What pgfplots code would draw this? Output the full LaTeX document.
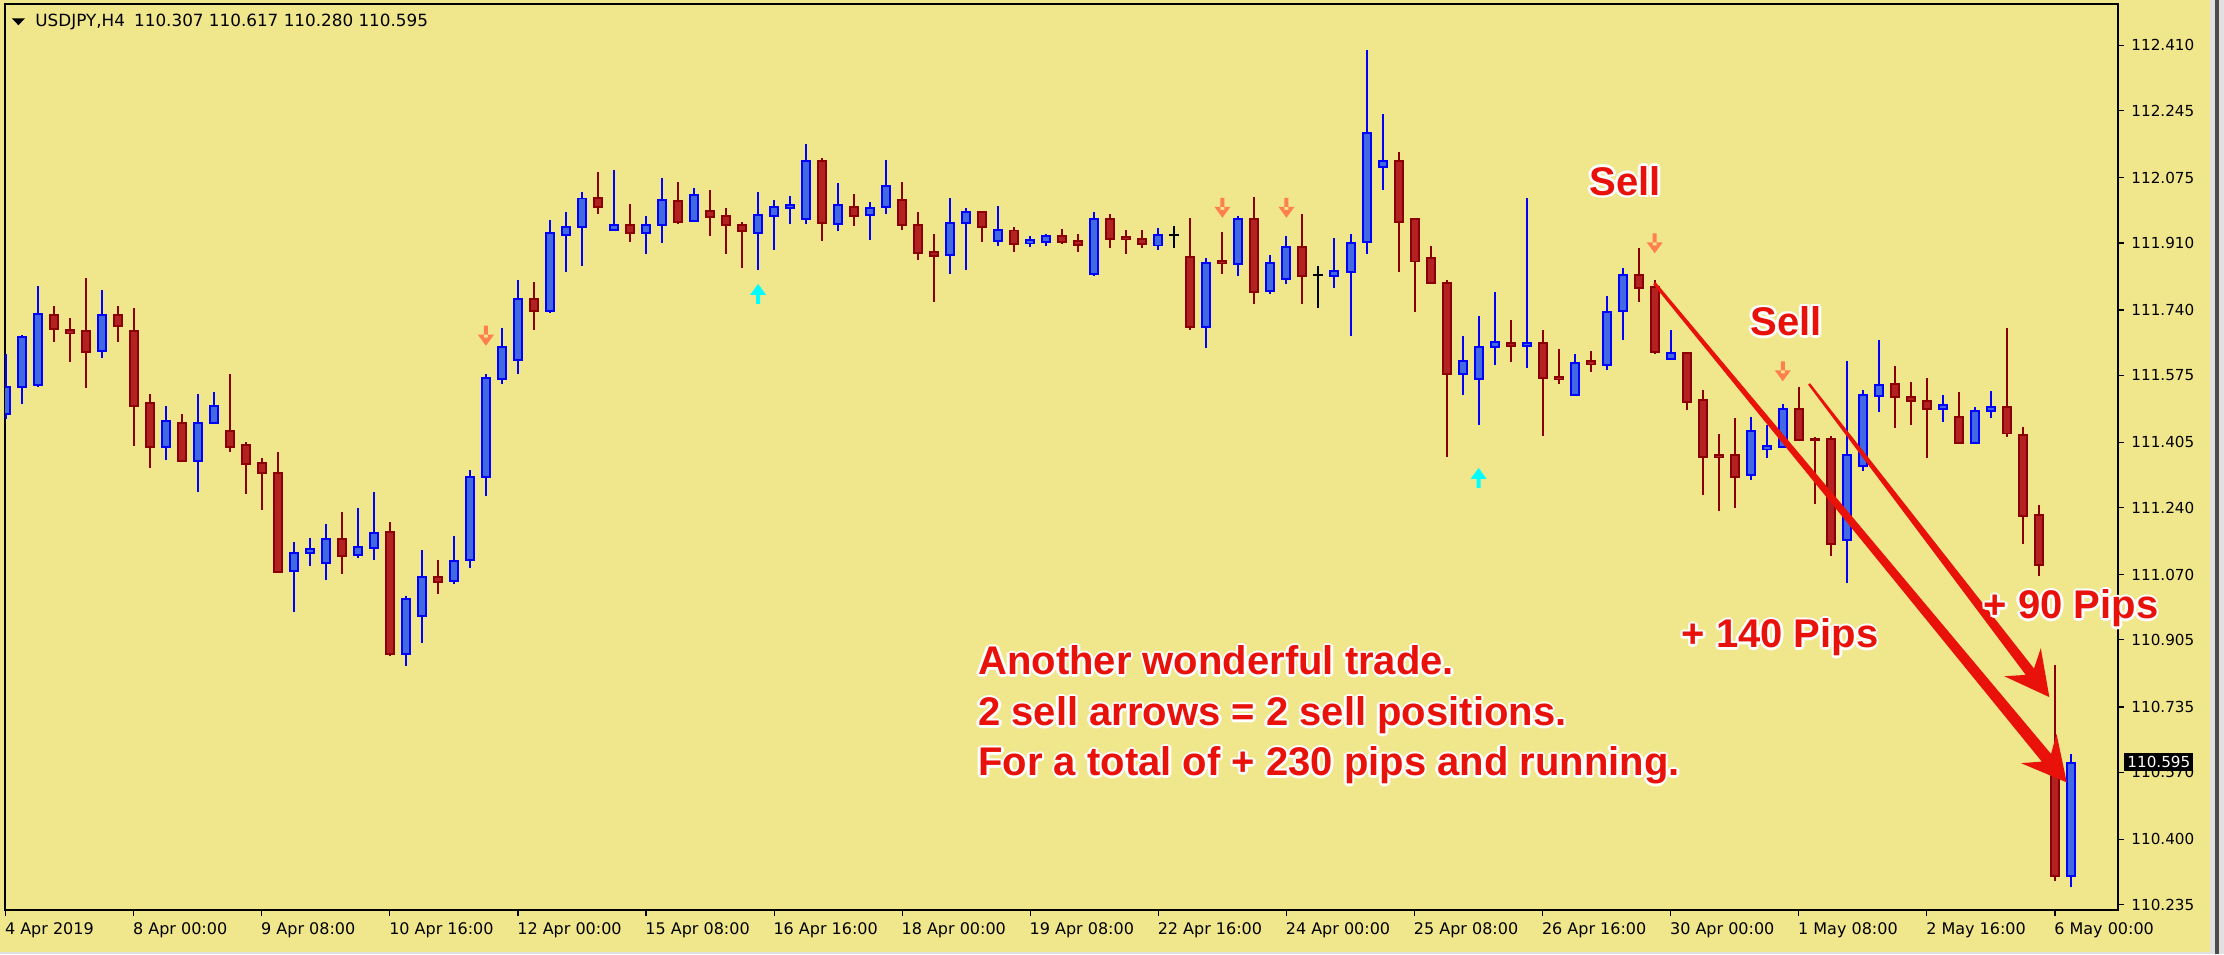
\documentclass[border=0pt]{standalone}
\usepackage{fontspec}
\setmainfont{DejaVu Sans}
\newfontfamily\annfont{Liberation Sans}
\usepackage{pgfplots}
\pgfplotsset{compat=1.18}
\usepackage{pgfplotstable}
\usetikzlibrary{calc}

\definecolor{chartbg}{RGB}{240,230,140}
\definecolor{bullfill}{RGB}{65,105,225}
\definecolor{bullline}{RGB}{0,0,255}
\definecolor{bearfill}{RGB}{178,34,34}
\definecolor{bearline}{RGB}{139,0,0}
\definecolor{sellarrow}{RGB}{255,127,80}
\definecolor{buyarrow}{RGB}{0,255,255}
\definecolor{annred}{RGB}{232,18,10}

% USDJPY H4, bar index / open / high / low / close
\pgfplotstableread{
x o h l c
0 111.479 111.629 111.464 111.546
1 111.546 111.678 111.504 111.673
2 111.550 111.801 111.545 111.729
3 111.729 111.751 111.660 111.692
4 111.689 111.720 111.610 111.682
5 111.688 111.822 111.545 111.636
6 111.636 111.791 111.620 111.729
7 111.729 111.751 111.660 111.702
8 111.688 111.746 111.397 111.499
9 111.506 111.528 111.341 111.393
10 111.393 111.497 111.362 111.460
11 111.455 111.477 111.357 111.357
12 111.357 111.528 111.281 111.455
13 111.454 111.533 111.454 111.496
14 111.435 111.578 111.382 111.393
15 111.400 111.406 111.275 111.352
16 111.354 111.366 111.235 111.327
17 111.329 111.381 111.079 111.079
18 111.079 111.153 110.977 111.126
19 111.124 111.163 111.093 111.136
20 111.099 111.199 111.058 111.161
21 111.161 111.229 111.073 111.119
22 111.119 111.239 111.114 111.141
23 111.139 111.280 111.108 111.177
24 111.178 111.204 110.866 110.870
25 110.870 111.016 110.840 111.010
26 110.968 111.132 110.896 111.065
27 111.065 111.107 111.023 111.054
28 111.054 111.168 111.048 111.105
29 111.109 111.336 111.088 111.318
30 111.318 111.578 111.270 111.568
31 111.565 111.695 111.554 111.648
32 111.616 111.816 111.580 111.769
33 111.769 111.812 111.691 111.738
34 111.738 111.969 111.732 111.937
35 111.929 111.989 111.838 111.951
36 111.950 112.039 111.853 112.023
37 112.023 112.090 111.984 112.001
38 111.945 112.095 111.945 111.956
39 111.956 112.009 111.914 111.935
40 111.935 111.978 111.883 111.956
41 111.955 112.075 111.909 112.018
42 112.018 112.065 111.959 111.965
43 111.965 112.050 111.965 112.032
44 111.992 112.045 111.929 111.976
45 111.978 111.999 111.883 111.955
46 111.957 111.963 111.848 111.940
47 111.935 112.039 111.843 111.982
48 111.980 112.019 111.893 112.003
49 112.000 112.029 111.959 112.008
50 111.970 112.161 111.959 112.119
51 112.119 112.125 111.914 111.960
52 111.960 112.060 111.939 112.008
53 112.003 112.034 111.954 111.980
54 111.980 112.014 111.919 111.998
55 112.000 112.120 111.984 112.054
56 112.018 112.065 111.944 111.955
57 111.957 111.989 111.868 111.884
58 111.887 111.933 111.762 111.879
59 111.879 112.024 111.833 111.962
60 111.960 111.999 111.843 111.988
61 111.988 111.988 111.914 111.950
62 111.914 112.004 111.903 111.942
63 111.942 111.952 111.888 111.909
64 111.909 111.927 111.898 111.917
65 111.914 111.932 111.903 111.927
66 111.927 111.947 111.908 111.914
67 111.916 111.933 111.887 111.904
68 111.833 111.989 111.827 111.972
69 111.972 111.984 111.898 111.920
70 111.926 111.943 111.882 111.920
71 111.921 111.943 111.898 111.909
72 111.904 111.948 111.892 111.931
73 111.931 111.953 111.898 111.931
74 111.876 111.974 111.690 111.697
75 111.697 111.872 111.644 111.860
76 111.866 111.938 111.832 111.859
77 111.859 111.979 111.827 111.972
78 111.972 112.029 111.756 111.788
79 111.788 111.882 111.781 111.860
80 111.818 111.928 111.806 111.901
81 111.901 111.984 111.756 111.828
82 111.830 111.852 111.746 111.830
83 111.828 111.923 111.796 111.840
84 111.838 111.933 111.675 111.911
85 111.914 112.399 111.882 112.190
86 112.102 112.237 112.044 112.119
87 112.119 112.141 111.837 111.965
88 111.972 111.972 111.736 111.864
89 111.871 111.903 111.808 111.808
90 111.810 111.817 111.368 111.580
91 111.580 111.675 111.525 111.612
92 111.565 111.725 111.449 111.648
93 111.646 111.786 111.600 111.658
94 111.658 111.715 111.609 111.651
95 111.651 112.024 111.595 111.658
96 111.658 111.690 111.422 111.570
97 111.572 111.644 111.555 111.565
98 111.525 111.629 111.525 111.607
99 111.612 111.639 111.584 111.605
100 111.600 111.776 111.590 111.734
101 111.737 111.847 111.666 111.830
102 111.830 111.898 111.762 111.798
103 111.800 111.817 111.631 111.636
104 111.616 111.690 111.616 111.633
105 111.633 111.633 111.489 111.509
106 111.511 111.538 111.271 111.368
107 111.374 111.427 111.231 111.368
108 111.374 111.467 111.241 111.317
109 111.322 111.472 111.312 111.435
110 111.390 111.450 111.366 111.396
111 111.394 111.502 111.390 111.490
112 111.490 111.547 111.413 111.413
113 111.415 111.421 111.250 111.411
114 111.415 111.421 111.118 111.149
115 111.159 111.613 111.049 111.374
116 111.347 111.537 111.334 111.525
117 111.525 111.665 111.483 111.552
118 111.552 111.599 111.444 111.520
119 111.521 111.558 111.450 111.511
120 111.511 111.568 111.366 111.490
121 111.490 111.527 111.458 111.500
122 111.470 111.533 111.403 111.403
123 111.403 111.496 111.403 111.486
124 111.485 111.537 111.469 111.495
125 111.495 111.696 111.419 111.428
126 111.426 111.446 111.149 111.221
127 111.222 111.248 111.068 111.095
128 110.580 110.843 110.295 110.307
129 110.307 110.617 110.280 110.595
}\candles

% MT4 style signal arrows, drawn around the data point
\pgfdeclareplotmark{sellarr}{%
  \pgfpathrectangle{\pgfpoint{-1pt}{-1pt}}{\pgfpoint{2pt}{6pt}}%
  \pgfpathmoveto{\pgfpoint{-4pt}{0.5pt}}\pgfpathlineto{\pgfpoint{4pt}{0.5pt}}%
  \pgfpathlineto{\pgfpoint{0pt}{-5pt}}\pgfpathclose
  \pgfusepathqfill}
\pgfdeclareplotmark{buyarr}{%
  \pgfpathrectangle{\pgfpoint{-1pt}{-5pt}}{\pgfpoint{2pt}{6pt}}%
  \pgfpathmoveto{\pgfpoint{-4pt}{-0.5pt}}\pgfpathlineto{\pgfpoint{4pt}{-0.5pt}}%
  \pgfpathlineto{\pgfpoint{0pt}{5pt}}\pgfpathclose
  \pgfusepathqfill}
% empty mark: candles are drawn by their error bars only
\pgfdeclareplotmark{nothing}{}

\pgfplotsset{
  candle/.style={only marks, mark=nothing,
    error bars/y dir=both, error bars/y explicit, error bars/error mark=none,
    error bars/error bar style={#1}},
  isbull/.style={restrict expr to domain={\thisrow{c}-\thisrow{o}}{0.0005:100}},
  isbear/.style={restrict expr to domain={\thisrow{o}-\thisrow{c}}{0.0005:100}},
  isdoji/.style={restrict expr to domain={abs(\thisrow{c}-\thisrow{o})}{-1:0.0004}},
}

% red bold text with a white halo; #1 is x,y without parentheses
\newcommand\glow[3]{%
  \foreach \dx/\dy in {1.3/0,-1.3/0,0/1.3,0/-1.3,0.9/0.9,-0.9/0.9,0.9/-0.9,-0.9/-0.9}{%
    \node[anchor=#2, text=white, inner sep=0pt, font=\annfont\bfseries\fontsize{20}{25}\selectfont]
      at ([shift={(\dx pt,\dy pt)}]#1) {#3};}%
  \node[anchor=#2, text=annred, inner sep=0pt, font=\annfont\bfseries\fontsize{20}{25}\selectfont] at (#1) {#3};}

\begin{document}
\begin{tikzpicture}
\useasboundingbox (0,0) rectangle (1112pt,477pt);
\fill[chartbg] (0,0) rectangle (1112pt,477pt);
\fill[black!12] (1105pt,0) rectangle (1112pt,477pt);
\fill[black!70] (1107.5pt,0) rectangle (1109.5pt,477pt);
\fill[black!12] (0,0) rectangle (1105pt,1pt);

\begin{axis}[
  at={(2.5pt,22pt)}, anchor=south west,
  scale only axis, width=1056.5pt, height=453pt,
  xmin=-0.04, xmax=131.94, ymin=110.221, ymax=112.515,
  axis background/.style={fill=chartbg},
  axis line style={line width=1pt, black},
  tick align=outside, major tick length=3pt,
  tick style={black, line width=0.6pt},
  xtick pos=left, ytick pos=right, yticklabel pos=right,
  xtick={0,8,...,128},
  xticklabels={4 Apr 2019, 8 Apr 00:00, 9 Apr 08:00, 10 Apr 16:00, 12 Apr 00:00,
    15 Apr 08:00, 16 Apr 16:00, 18 Apr 00:00, 19 Apr 08:00, 22 Apr 16:00,
    24 Apr 00:00, 25 Apr 08:00, 26 Apr 16:00, 30 Apr 00:00, 1 May 08:00,
    2 May 16:00, 6 May 00:00},
  ytick={110.235,110.400,110.570,110.735,110.905,111.070,111.240,111.405,
    111.575,111.740,111.910,112.075,112.245,112.410},
  yticklabels={110.235,110.400,110.570,110.735,110.905,111.070,111.240,111.405,
    111.575,111.740,111.910,112.075,112.245,112.410},
  xticklabel style={anchor=north west, inner sep=0pt, xshift=-0.5pt, yshift=-3pt,
    font=\fontsize{8}{9}\selectfont},
  yticklabel style={anchor=west, inner sep=0pt, xshift=3.5pt,
    font=\fontsize{7.6}{9}\selectfont},
]
% wicks
\addplot[candle={line width=1pt, bullline}, isbull]
  table[x=x, y expr={(\thisrow{h}+\thisrow{l})/2}, y error expr={(\thisrow{h}-\thisrow{l})/2}] {\candles};
\addplot[candle={line width=1pt, bearline}, isbear]
  table[x=x, y expr={(\thisrow{h}+\thisrow{l})/2}, y error expr={(\thisrow{h}-\thisrow{l})/2}] {\candles};
\addplot[candle={line width=1pt, black}, isdoji]
  table[x=x, y expr={(\thisrow{h}+\thisrow{l})/2}, y error expr={(\thisrow{h}-\thisrow{l})/2}] {\candles};
% bodies: outline layer, then fill layer
\addplot[candle={line width=5pt, bullline}, isbull]
  table[x=x, y expr={(\thisrow{o}+\thisrow{c})/2}, y error expr={abs(\thisrow{c}-\thisrow{o})/2+0.0025}] {\candles};
\addplot[candle={line width=5pt, bearline}, isbear]
  table[x=x, y expr={(\thisrow{o}+\thisrow{c})/2}, y error expr={abs(\thisrow{c}-\thisrow{o})/2+0.0025}] {\candles};
\addplot[candle={line width=5pt, black}, isdoji]
  table[x=x, y expr={(\thisrow{o}+\thisrow{c})/2}, y error expr={0.0025}] {\candles};
\addplot[candle={line width=3pt, bullfill}, isbull]
  table[x=x, y expr={(\thisrow{o}+\thisrow{c})/2}, y error expr={max(abs(\thisrow{c}-\thisrow{o})/2-0.0025,0)}] {\candles};
\addplot[candle={line width=3pt, bearfill}, isbear]
  table[x=x, y expr={(\thisrow{o}+\thisrow{c})/2}, y error expr={max(abs(\thisrow{c}-\thisrow{o})/2-0.0025,0)}] {\candles};

% signal arrows
\addplot[only marks, mark=sellarr, sellarrow]
  coordinates {(30,111.675) (76,111.999) (80,111.999) (103,111.909) (111,111.585)};
\addplot[only marks, mark=buyarr, buyarrow]
  coordinates {(47,111.781) (92,111.315)};

\coordinate (A1) at (axis cs:102.98,111.808);
\coordinate (T1) at (axis cs:128.74,110.544);
\coordinate (A2) at (axis cs:112.64,111.553);
\coordinate (T2) at (axis cs:127.65,110.760);
\coordinate (cp) at (axis cs:131.94,110.595);
\end{axis}

% trade arrows
\coordinate (B1) at ($(T1)!22pt!(A1)$);
\coordinate (J1) at ($(T1)!16pt!(A1)$);
\fill[annred] ($(A1)!0.8pt!90:(T1)$) -- ($(J1)!3pt!-90:(A1)$) -- ($(B1)!11.5pt!-90:(A1)$)
  -- (T1) -- ($(B1)!11.5pt!90:(A1)$) -- ($(J1)!3pt!90:(A1)$) -- ($(A1)!0.8pt!-90:(T1)$) -- cycle;
\coordinate (B2) at ($(T2)!22pt!(A2)$);
\coordinate (J2) at ($(T2)!16pt!(A2)$);
\fill[annred] ($(A2)!0.6pt!90:(T2)$) -- ($(J2)!2.6pt!-90:(A2)$) -- ($(B2)!11.5pt!-90:(A2)$)
  -- (T2) -- ($(B2)!11.5pt!90:(A2)$) -- ($(J2)!2.6pt!90:(A2)$) -- ($(A2)!0.6pt!-90:(T2)$) -- cycle;

% annotations
\glow{812.5pt,386.5pt}{center}{Sell}
\glow{893pt,316.3pt}{center}{Sell}
\glow{890pt,153pt}{base}{+ 140 Pips}
\glow{1035.5pt,167.5pt}{base}{+ 90 Pips}
\glow{489pt,139.5pt}{base west}{Another wonderful trade.}
\glow{489pt,114pt}{base west}{2 sell arrows = 2 sell positions.}
\glow{489pt,89pt}{base west}{For a total of + 230 pips and running.}

% current price label
\node[anchor=west, xshift=3pt, fill=black, text=white, inner xsep=1.5pt, inner ysep=0pt,
  minimum height=9pt, font=\fontsize{7.6}{9}\selectfont] at (cp) {110.595};

% header
\fill[black] (5.9pt,467.8pt) -- (12.5pt,467.8pt) -- (9.2pt,464.4pt) -- cycle;
\node[anchor=west, inner sep=0pt, font=\fontsize{8.4}{10}\selectfont] at (17.5pt,466.2pt)
  {USDJPY,H4\hspace{0.55em}110.307 110.617 110.280 110.595};
\end{tikzpicture}
\end{document}
